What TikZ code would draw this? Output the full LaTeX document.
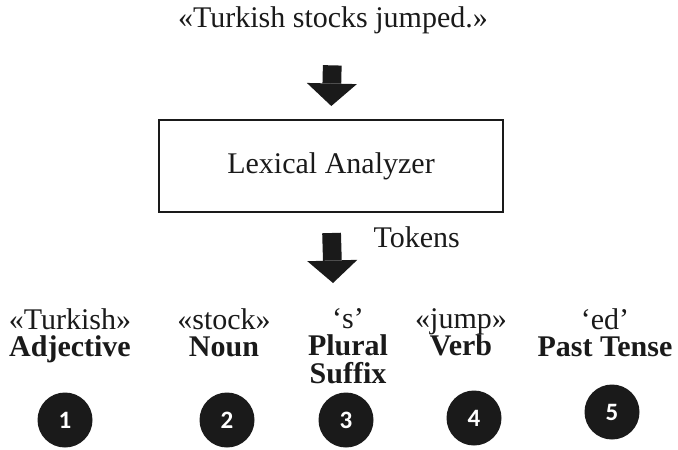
\documentclass[tikz,border=0pt]{standalone}
\usepackage{fontspec}
\setmainfont{Liberation Serif}
\newfontfamily\numfont{Carlito}
\usepackage{tikz}
\usetikzlibrary{arrows.meta, positioning}
\definecolor{ink}{HTML}{1A1A1A}

\begin{document}
\begin{tikzpicture}[x=0.4pt, y=-0.4pt,
  word/.style={font=\fontsize{12}{11}\selectfont, align=center, inner sep=0pt, text=ink},
  analyzer/.style={rectangle, draw=ink, line width=0.8pt, minimum width=137.6pt, minimum height=36.8pt, font=\fontsize{12}{14}\selectfont, text=ink},
  bigarrow/.style={ink, line width=7.5pt, -{Triangle[length=9pt, width=20pt, line width=0pt]}},
  badge/.style={circle, fill=ink, minimum size=22pt, inner sep=0pt, text=white, font=\numfont\bfseries\fontsize{10}{10}\selectfont}
]
  \useasboundingbox (0,0) rectangle (678,449);

  \node[word] (sentence) at (333,20) {«Turkish stocks jumped.»};
  \node[analyzer] (lexer) at (331,166) {Lexical Analyzer};
  \coordinate (split) at (333,283);

  \draw[bigarrow, shorten <=12.5pt, shorten >=5.2pt] (sentence.south) -- (lexer.north);
  \draw[bigarrow, shorten <=8pt] (lexer.south) -- node[word, pos=0.35, anchor=west, xshift=13pt] (tokens) {Tokens} (split);

  \node[word, anchor=north] (adj) at (70,308) {«Turkish»\\\textbf{Adjective}};
  \node[word, anchor=north] (noun) at (224,308) {«stock»\\\textbf{Noun}};
  \node[word, anchor=north] (plural) at (348,308) {‘s’\\\textbf{Plural}\\\textbf{Suffix}};
  \node[word, anchor=north] (verb) at (461,308) {«jump»\\\textbf{Verb}};
  \node[word, anchor=north] (tense) at (605,308) {‘ed’\\\textbf{Past Tense}};

  \node[badge] (n1) at (65,420) {1};
  \node[badge] (n2) at (227,420) {2};
  \node[badge] (n3) at (346,420) {3};
  \node[badge] (n4) at (474,418) {4};
  \node[badge] (n5) at (612,412) {5};
\end{tikzpicture}
\end{document}
